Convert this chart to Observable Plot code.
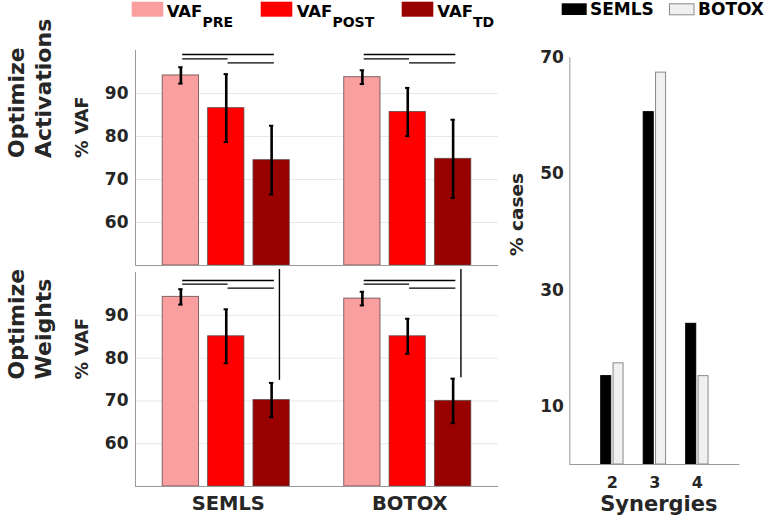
<!DOCTYPE html>
<html>
<head>
<meta charset="utf-8">
<script src="https://cdn.jsdelivr.net/npm/d3@7"></script>
<script src="https://cdn.jsdelivr.net/npm/@observablehq/plot@0.6"></script>
<style>
  html, body { margin: 0; padding: 0; background: white; }
  #wrap { position: relative; width: 767px; height: 515px; font-family: "DejaVu Sans", sans-serif; overflow: hidden; }
  #wrap > svg, #wrap > figure { position: absolute; left: 0; top: 0; margin: 0; }
</style>
</head>
<body>
<div id="wrap">
<svg id="legend" width="767" height="32" style="position:absolute;left:0;top:0;font-family:'DejaVu Sans';font-weight:bold;fill:#000">
  <rect x="131.7" y="1.7" width="31.6" height="15" fill="#fa9f9f"/>
  <text x="166.7" y="16.7" font-size="16.5">VAF<tspan dy="10" font-size="14">PRE</tspan></text>
  <rect x="260.7" y="1.7" width="31.6" height="15" fill="#ff0000"/>
  <text x="296.7" y="16.7" font-size="16.5">VAF<tspan dy="10" font-size="14">POST</tspan></text>
  <rect x="401.7" y="1.7" width="31.6" height="15" fill="#990000"/>
  <text x="437.3" y="16.7" font-size="16.5">VAF<tspan dy="10" font-size="14">TD</tspan></text>
  <rect x="561.7" y="3.3" width="25" height="11.7" fill="#000"/>
  <text x="590" y="15.3" font-size="17">SEMLS</text>
  <rect x="669.5" y="3.8" width="24.5" height="11" fill="#f0f0f0" stroke="#8a8a8a"/>
  <text x="698" y="15.3" font-size="17">BOTOX</text>
</svg>
</div>
<script>
// ---- data ----
const groups = ["SEMLS", "BOTOX"];
const conditions = ["PRE", "POST", "TD"];
const condColors = ["#fa9f9f", "#ff0000", "#990000"];

// Optimize Activations: mean and SD (% VAF)
const actSEMLS = [94.2, 86.6, 74.5];
const actSEMLSsd = [1.9, 7.9, 8.0];
const actBOTOX = [93.8, 85.7, 74.8];
const actBOTOXsd = [1.6, 5.6, 9.1];

// Optimize Weights: mean and SD (% VAF)
const wSEMLS = [94.3, 85.1, 70.2];
const wSEMLSsd = [1.8, 6.3, 4.0];
const wBOTOX = [93.9, 85.1, 70.0];
const wBOTOXsd = [1.6, 4.1, 5.2];

const vafTicks = [60, 70, 80, 90];

// Synergy count distribution (% cases)
const synergies = [2, 3, 4];
const semlsPct = [15.2, 60.6, 24.2];
const botoxPct = [17.4, 67.4, 15.2];
const pctTicks = [10, 30, 50, 70];

// significance brackets: pairs of conditions
const sigPairs = [[0, 2], [0, 1], [1, 2]];
// vertical links in weights panel (TD weights vs TD activations), end value
const tdLinkEnd = [74.8, 75.4];

// ---- layout ----
const W = 767, H = 515;
const L = {left: 135, right: 498};
const barOff = [-0.25, 0, 0.25], barHalf = 0.1;
const sigOff = [-0.24, 0.01, 0.265];
const ink = "#262626";
const axisGray = "#9a9a9a";

function rowsFor(means, sds) {
  const rows = [];
  groups.forEach((g, gi) => conditions.forEach((c, ci) => {
    rows.push({g: gi + 1, ci, cond: c, mean: means[gi][ci], sd: sds[gi][ci]});
  }));
  return rows;
}

const styleBase = {background: "transparent", overflow: "visible", fontFamily: "DejaVu Sans", fontWeight: "bold", color: ink};

function vafPanel({rows, top, bottom, title, sigDy, bottomAxis, links}) {
  const cx = d => d.g + barOff[d.ci];
  const marks = [
    Plot.gridY(vafTicks, {stroke: "#e8e8e8", strokeOpacity: 1}),
    Plot.axisY(vafTicks, {tickSize: 0, tickPadding: 7, fontSize: 17, label: null}),
    Plot.rect(rows, {x1: d => cx(d) - barHalf, x2: d => cx(d) + barHalf, y1: () => 50, y2: "mean",
      fill: "cond", stroke: "#5a4040", strokeOpacity: 0.75, strokeWidth: 1}),
    Plot.ruleX(rows, {x: cx, y1: d => d.mean - d.sd, y2: d => d.mean + d.sd, stroke: "black", strokeWidth: 2.6}),
    Plot.ruleY(rows, {y: d => d.mean + d.sd, x1: d => cx(d) - 0.012, x2: d => cx(d) + 0.012, stroke: "black", strokeWidth: 2}),
    Plot.ruleY(rows, {y: d => d.mean - d.sd, x1: d => cx(d) - 0.012, x2: d => cx(d) + 0.012, stroke: "black", strokeWidth: 2}),
    ...sigPairs.map((p, k) => Plot.ruleY([1, 2], {y: () => 100, x1: g => g + sigOff[p[0]], x2: g => g + sigOff[p[1]],
      dy: sigDy[k], stroke: "black", strokeWidth: 1.3})),
    Plot.ruleX([0.5], {stroke: axisGray, strokeWidth: 1}),
    Plot.ruleY([50], {stroke: axisGray, strokeWidth: 1.2}),
    Plot.text([title], {text: d => d, frameAnchor: "left", dx: -106.5, rotate: -90, fontSize: 22,
      lineHeight: 1.23, lineAnchor: "middle", fill: ink}),
    Plot.text(["% VAF"], {text: d => d, frameAnchor: "left", dx: -53, rotate: -90, fontSize: 17.5,
      lineAnchor: "middle", fill: ink})
  ];
  if (links) {
    marks.push(Plot.ruleX([1, 2], {x: g => g + 0.293, y1: () => 100, y2: g => links[g - 1], insetTop: -3,
      stroke: "black", strokeWidth: 1.4}));
  }
  if (bottomAxis) {
    marks.push(Plot.axisX([1, 2], {tickSize: 0, tickPadding: 10, fontSize: 19.5, label: null,
      tickFormat: d => groups[d - 1], dx: 2}));
  }
  return Plot.plot({
    width: W, height: H,
    marginLeft: L.left, marginRight: W - L.right, marginTop: top, marginBottom: H - bottom,
    style: styleBase,
    x: {domain: [0.5, 2.5], axis: bottomAxis ? undefined : null},
    y: {domain: [50, 100]},
    color: {domain: conditions, range: condColors},
    marks
  });
}

const wrap = document.getElementById("wrap");

const topPanel = vafPanel({
  rows: rowsFor([actSEMLS, actBOTOX], [actSEMLSsd, actBOTOXsd]),
  top: 50, bottom: 265, title: "Optimize\nActivations", sigDy: [4, 8.3, 12.3], bottomAxis: false
});
const botPanel = vafPanel({
  rows: rowsFor([wSEMLS, wBOTOX], [wSEMLSsd, wBOTOXsd]),
  top: 272, bottom: 486, title: "Optimize\nWeights", sigDy: [8, 11.7, 15.7], bottomAxis: true, links: tdLinkEnd
});

// right panel
const synRows = [];
synergies.forEach((s, i) => {
  synRows.push({s, grp: "SEMLS", v: semlsPct[i], off: -0.143});
  synRows.push({s, grp: "BOTOX", v: botoxPct[i], off: 0.147});
});
const rightPanel = Plot.plot({
  width: W, height: H,
  marginLeft: 569.3, marginRight: W - 739.3, marginTop: 57, marginBottom: H - 464,
  style: styleBase,
  x: {domain: [1, 5]},
  y: {domain: [0, 70]},
  color: {domain: ["SEMLS", "BOTOX"], range: ["#000000", "#f0f0f0"]},
  marks: [
    Plot.axisY(pctTicks, {tickSize: 0, tickPadding: 6, fontSize: 17, label: null}),
    Plot.axisX(synergies, {tickSize: 0, tickPadding: 12, fontSize: 16, label: null}),
    Plot.rect(synRows, {x1: d => d.s + d.off - 0.118, x2: d => d.s + d.off + 0.118, y1: () => 0, y2: "v",
      fill: "grp", stroke: d => d.grp === "SEMLS" ? "#000" : "#8a8a8a", strokeWidth: 1}),
    Plot.ruleX([1], {stroke: axisGray, strokeWidth: 1}),
    Plot.ruleY([0], {stroke: axisGray, strokeWidth: 1.2}),
    Plot.text(["% cases"], {text: d => d, frameAnchor: "left", dx: -52.3, dy: -5, rotate: -90, fontSize: 18.5,
      lineAnchor: "middle", fill: ink}),
    Plot.text(["Synergies"], {text: d => d, frameAnchor: "bottom", dy: 40, dx: 4, fontSize: 21,
      lineAnchor: "middle", fill: ink})
  ]
});

wrap.insertBefore(rightPanel, wrap.firstChild);
wrap.insertBefore(botPanel, wrap.firstChild);
wrap.insertBefore(topPanel, wrap.firstChild);
for (const el of [topPanel, botPanel, rightPanel]) {
  el.style.position = "absolute"; el.style.left = "0px"; el.style.top = "0px";
}
</script>
</body>
</html>
